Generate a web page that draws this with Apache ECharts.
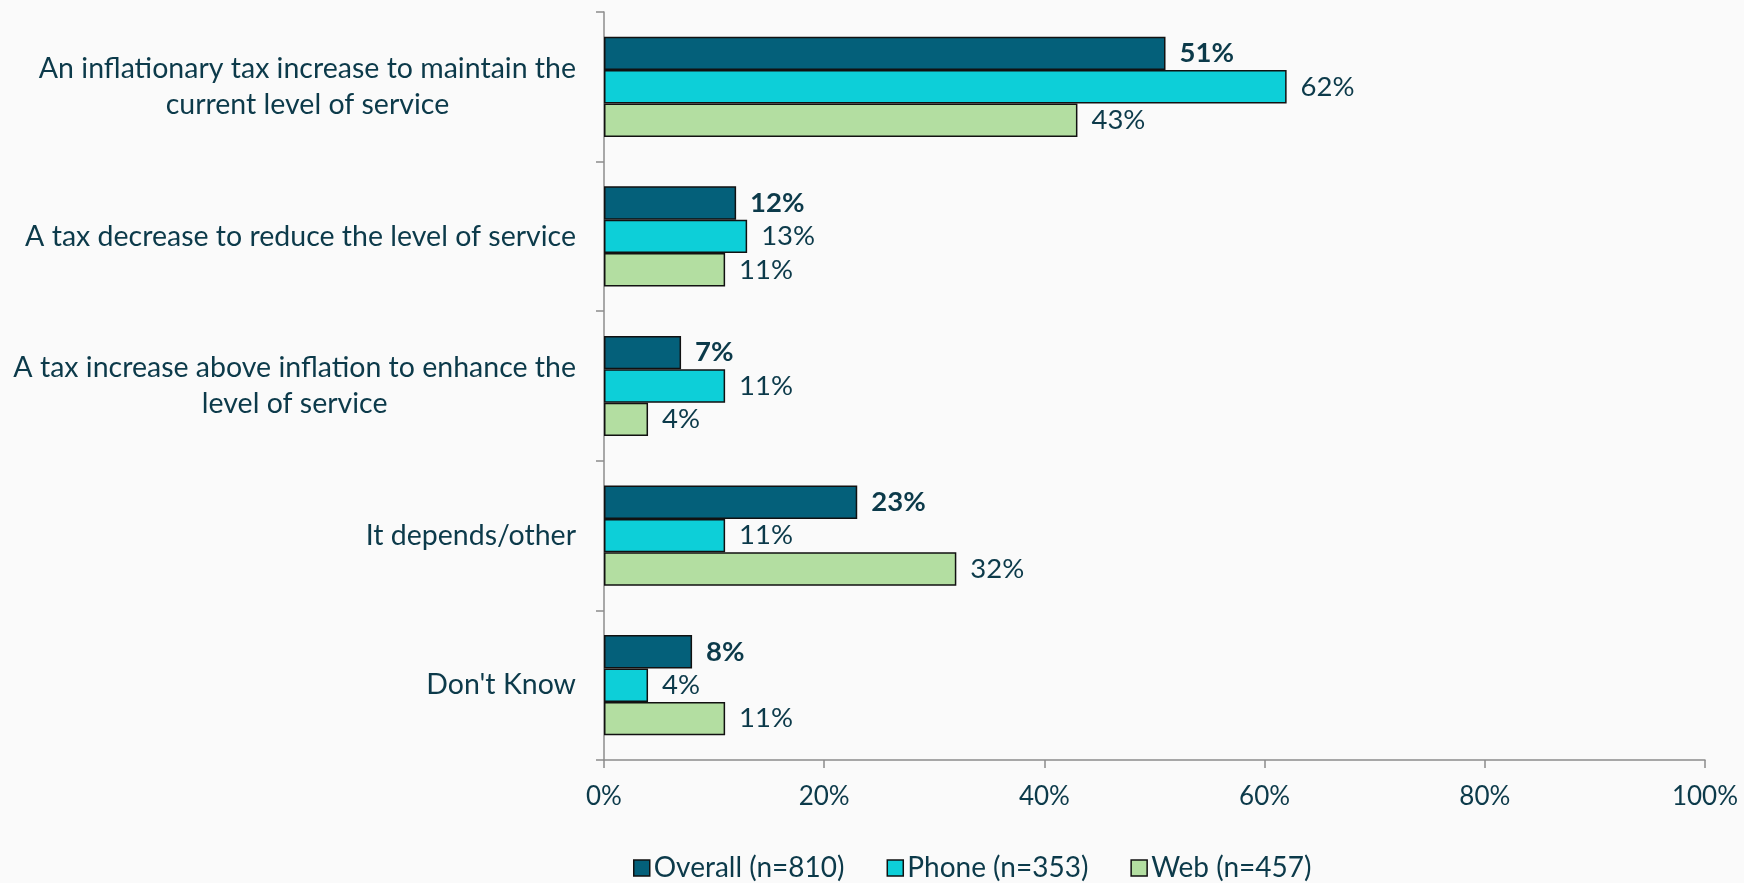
<!DOCTYPE html>
<html>
<head>
<meta charset="utf-8">
<script src="https://cdn.jsdelivr.net/npm/echarts@6/dist/echarts.min.js"></script>
<style>
  html, body { margin: 0; padding: 0; background: #fafafa; }
  #chart { width: 1744px; height: 883px; }
</style>
</head>
<body>
<div id="chart"></div>
<script>
// Survey answers, one row per option (line breaks mark where a label wraps)
const categories = [
  'An inflationary tax increase to maintain the\ncurrent level of service',
  'A tax decrease to reduce the level of service',
  'A tax increase above inflation to enhance the\nlevel of service',
  'It depends/other',
  "Don't Know"
];
const seriesNames = ['Overall (n=810)', 'Phone (n=353)', 'Web (n=457)'];
const overall = [51, 12, 7, 23, 8];
const phone = [62, 13, 11, 11, 4];
const web = [43, 11, 4, 32, 11];
const xTicks = [0, 20, 40, 60, 80, 100];

const FONT = 'Lato';
const INK = '#0c3a4a';
const colors = ['#04607a', '#0dcfd8', '#b3dea1'];

function barSeries(name, data, color, bold) {
  return {
    name: name,
    type: 'bar',
    data: data,
    barGap: '0%',
    barCategoryGap: '33%',
    itemStyle: { color: color, borderColor: '#111', borderWidth: 1.5 },
    label: {
      show: true,
      position: 'right',
      distance: 14,
      formatter: p => p.value + '%',
      fontFamily: FONT,
      fontSize: 27.5,
      fontWeight: bold ? 'bold' : 'normal',
      color: INK
    }
  };
}

const chart = echarts.init(document.getElementById('chart'), null, { renderer: 'canvas' });
chart.setOption({
  backgroundColor: '#fafafa',
  animation: false,
  grid: { left: 604, right: 39, top: 12, bottom: 123, containLabel: false },
  legend: {
    left: 628,
    top: 849,
    itemWidth: 16,
    itemHeight: 16,
    itemGap: 42,
    icon: 'rect',
    textStyle: { fontFamily: FONT, fontSize: 28, color: INK, padding: [0, 0, 0, -1] },
    itemStyle: { borderColor: '#111', borderWidth: 1.5 },
    data: seriesNames
  },
  xAxis: {
    type: 'value',
    min: xTicks[0],
    max: xTicks[xTicks.length - 1],
    interval: xTicks[1] - xTicks[0],
    axisLine: { show: true, lineStyle: { color: '#8c8c8c', width: 1.5 } },
    axisTick: { show: true, length: 8, lineStyle: { color: '#8c8c8c', width: 1.5 } },
    splitLine: { show: false },
    axisLabel: {
      formatter: v => v + '%',
      fontFamily: FONT,
      fontSize: 26,
      color: INK,
      margin: 24
    }
  },
  yAxis: {
    type: 'category',
    inverse: true,
    data: categories,
    axisLine: { show: true, lineStyle: { color: '#8c8c8c', width: 1.5 } },
    axisTick: { show: true, length: 8, lineStyle: { color: '#8c8c8c', width: 1.5 } },
    axisLabel: {
      margin: 28,
      fontFamily: FONT,
      fontSize: 28.5,
      color: INK,
      lineHeight: 36,
      formatter: v => v.split('\n').map(l => '{c|' + l + '}').join('\n'),
      rich: {
        c: { align: 'center', fontFamily: FONT, fontSize: 28.5, color: INK, lineHeight: 36 }
      }
    }
  },
  series: [
    barSeries(seriesNames[0], overall, colors[0], true),
    barSeries(seriesNames[1], phone, colors[1], false),
    barSeries(seriesNames[2], web, colors[2], false)
  ]
});
</script>
</body>
</html>
